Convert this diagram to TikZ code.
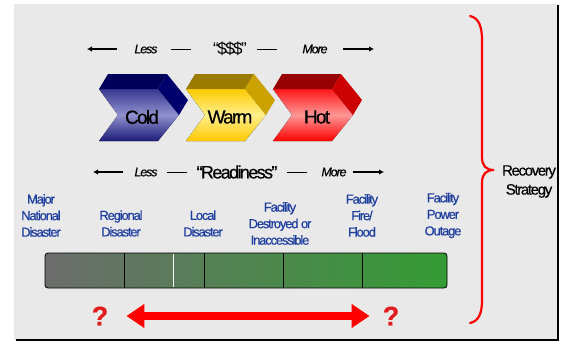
\documentclass[tikz,border=0pt]{standalone}
\usepackage{fontspec}
\setmainfont{Liberation Sans}[LetterSpace=-9, FakeBold=0.5]
\newfontfamily\plainsans{Liberation Sans}[LetterSpace=-9]
\usetikzlibrary{arrows.meta}

\definecolor{panelgray}{RGB}{233,233,233}
\definecolor{labelblue}{RGB}{30,62,158}
\definecolor{qred}{RGB}{225,30,30}
% chevron colours
\definecolor{coldtop}{RGB}{56,56,146}
\definecolor{coldmid}{RGB}{144,144,206}
\definecolor{coldbot}{RGB}{28,28,122}
\definecolor{coldlid}{RGB}{0,0,90}
\definecolor{coldside}{RGB}{0,0,108}
\definecolor{warmtop}{RGB}{255,204,0}
\definecolor{warmmid}{RGB}{255,238,140}
\definecolor{warmbot}{RGB}{255,200,0}
\definecolor{warmlid}{RGB}{156,124,0}
\definecolor{warmside}{RGB}{204,162,0}
\definecolor{hottop}{RGB}{255,24,24}
\definecolor{hotmid}{RGB}{255,150,150}
\definecolor{hotbot}{RGB}{255,0,0}
\definecolor{hotlid}{RGB}{150,0,0}
\definecolor{hotside}{RGB}{204,0,0}
% bar colours
\definecolor{bargray}{RGB}{108,108,108}
\definecolor{bargreen}{RGB}{52,156,52}

\begin{document}
\begin{tikzpicture}[x=1pt, y=-1pt,
    rowtext/.style={inner sep=0pt, font=\fontsize{12.5}{15}\selectfont\itshape},
    quoted/.style={inner sep=0pt, font=\fontsize{17}{20}\selectfont},
    chevtext/.style={inner sep=0pt, font=\fontsize{19}{22}\selectfont},
    place/.style={inner sep=0pt, align=center, text=labelblue, font=\fontsize{13}{16.5}\selectfont},
    qmark/.style={inner sep=0pt, text=qred, font=\fontsize{27}{30}\selectfont\bfseries},
    rowarrow/.style={-{Latex[length=5pt,width=5.5pt]}, line width=1.3pt},
    rowdash/.style={line width=1pt},
    bigarrow/.style={red, line width=8pt, {Triangle[length=18pt,width=23pt]}-{Triangle[length=18pt,width=23pt]}}]

\useasboundingbox (0,0) rectangle (569,343);

% panel
    \fill[panelgray] (14,3) rectangle (558,340);
    \draw[white, line width=1pt] (14,3.5) -- (558,3.5);
    \draw[line width=2pt] (558,5) -- (558,340) -- (16,340);

% cost row
    \node[rowtext] (lessA) at (146,49) {Less};
    \node[quoted, font=\fontsize{17}{20}\plainsans] (cost) at (230,49) {“\$\$\$”};
    \node[rowtext] (moreA) at (315,49) {More};
    \coordinate (costL) at (87,49);
    \coordinate (costR) at (374,49);
    \draw[rowarrow] (117,49) -- (costL);
    \draw[rowarrow] (343,49) -- (costR);
    \draw[rowdash] (171,49) -- (191,49);
    \draw[rowdash] (257,49) -- (277,49);

% cold
\begin{scope}[shift={(99,89)}]
    \fill[top color=coldtop, bottom color=coldbot, middle color=coldmid]
        (0,0) -- (59,0) -- (80,26) -- (59,52) -- (0,52) -- (19,26) -- cycle;
    \fill[coldlid] (0,0) -- (9,-15) -- (68,-15) -- (59,0) -- cycle;
    \fill[coldside] (59,0) -- (68,-15) -- (89,11) -- (80,26) -- cycle;
    \node[chevtext] (cold) at (43,28) {Cold};
\end{scope}

% warm
\begin{scope}[shift={(186,89)}]
    \fill[top color=warmtop, bottom color=warmbot, middle color=warmmid]
        (0,0) -- (59,0) -- (80,26) -- (59,52) -- (0,52) -- (19,26) -- cycle;
    \fill[warmlid] (0,0) -- (9,-15) -- (68,-15) -- (59,0) -- cycle;
    \fill[warmside] (59,0) -- (68,-15) -- (89,11) -- (80,26) -- cycle;
    \node[chevtext] (warm) at (44,28) {Warm};
\end{scope}

% hot
\begin{scope}[shift={(273,89)}]
    \fill[top color=hottop, bottom color=hotbot, middle color=hotmid]
        (0,0) -- (59,0) -- (80,26) -- (59,52) -- (0,52) -- (19,26) -- cycle;
    \fill[hotlid] (0,0) -- (9,-15) -- (68,-15) -- (59,0) -- cycle;
    \fill[hotside] (59,0) -- (68,-15) -- (89,11) -- (80,26) -- cycle;
    \node[chevtext] (hot) at (44,28) {Hot};
\end{scope}

% readiness row
    \node[rowtext] (lessB) at (146,172) {Less};
    \node[quoted, font=\fontsize{18}{20}\selectfont] (ready) at (237,172) {“Readiness”};
    \node[rowtext] (moreB) at (334,172) {More};
    \coordinate (readyL) at (93,172);
    \coordinate (readyR) at (384,172);
    \draw[rowarrow] (123,172) -- (readyL);
    \draw[rowarrow] (353,172) -- (readyR);
    \draw[rowdash] (167,172) -- (187,172);
    \draw[rowdash] (287,172) -- (307,172);

% events
    \node[place] (national) at (41,215.5) {Major\\National\\Disaster};
    \node[place] (regional) at (121,223.5) {Regional\\Disaster};
    \node[place] (local) at (203,223.5) {Local\\Disaster};
    \node[place] (destroyed) at (280,223.5) {Facility\\Destroyed or\\Inaccessible};
    \node[place] (fire) at (362,215.5) {Facility\\Fire/\\Flood};
    \node[place] (power) at (443,215.5) {Facility\\Power\\Outage};

% bar
    \draw[rounded corners=3pt, left color=bargray, right color=bargreen, line width=0.8pt]
        (45,253) rectangle (447,288);
    \draw[line width=0.8pt] (124,253) -- (124,288)
                            (204,253) -- (204,288)
                            (283,253) -- (283,288)
                            (362,253) -- (362,288);
    \draw[white, line width=0.7pt] (173,254) -- (173,287);

% question marks
    \node[qmark] (qleft) at (100,316) {?};
    \node[qmark] (qright) at (391,316) {?};
    \draw[bigarrow, shorten <=18pt, shorten >=13pt] (qleft.east) -- (qright.west);

% recovery strategy
    \coordinate (braceTop) at (470,16);
    \coordinate (braceBot) at (470,323);
    \node[inner sep=0pt, align=center, font=\fontsize{15}{19}\selectfont] (recovery) at (529,181.5) {Recovery\\Strategy};
    \draw[red, line width=2.2pt, line cap=round]
        (braceTop) .. controls (479,18) and (482,27) .. (482,40) -- (482,157)
        .. controls (482,166) and (486,170) .. (494,170)
        .. controls (486,170) and (482,174) .. (482,183) -- (482,300)
        .. controls (482,313) and (479,321) .. (braceBot);

\end{tikzpicture}
\end{document}
